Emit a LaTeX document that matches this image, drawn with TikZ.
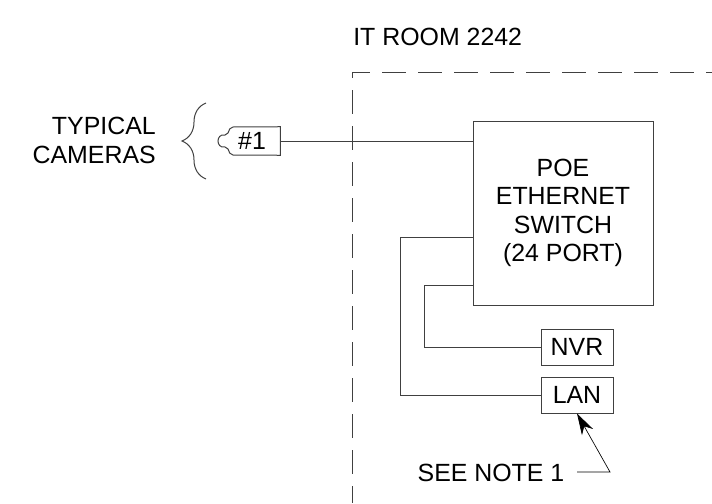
\documentclass[tikz,border=0pt]{standalone}
\usepackage{fontspec}
\setmainfont{Liberation Sans}
\usetikzlibrary{arrows.meta, positioning, decorations.pathreplacing}

\begin{document}
\begin{tikzpicture}[
    x=0.75pt, y=-0.75pt,
    box/.style={draw=black!75, line width=0.75pt, inner sep=0pt, align=center, font=\fontsize{18.67}{21.2}\selectfont},
    label/.style={inner sep=0pt, font=\fontsize{18.67}{21.8}\selectfont},
    wire/.style={draw=black!75, line width=0.75pt},
    room/.style={draw=black!75, line width=0.75pt, dash pattern=on 18pt off 9pt},
    arrow/.style={-{Stealth[length=16pt, width=9.5pt, inset=5pt]}, line width=0.5pt}
]
\useasboundingbox (0, 0) rectangle (712, 503);

% --- Room boundary ---
\node[label, anchor=west] (room) at (353, 37) {IT ROOM 2242};
\coordinate (corner) at (352, 72);
\coordinate (rmtop) at (712, 72);
\coordinate (rmbot) at (352, 503);
\draw[room, dash phase=4.5pt] (corner) -- (rmtop);
\draw[room, dash phase=13.5pt] (corner) -- (rmbot);

% --- Equipment ---
\node[box, minimum width=135pt, minimum height=138pt] (switch) at (563, 213) {POE\\ETHERNET\\SWITCH\\(24 PORT)};
\node[box, minimum width=54pt, minimum height=27pt] (nvr) at (577, 347) {NVR};
\node[box, minimum width=54pt, minimum height=27pt] (lan) at (577, 395) {LAN};

% --- Camera ---
\node[label, minimum width=42pt, minimum height=21pt] (cam) at (252, 141) {\#1};
\draw[wire] (cam.north east) -- (233, 127) .. controls (230, 127) and (229, 130) .. (228, 133)
    -- (225, 135) .. controls (220, 134) and (218, 138) .. (218, 141) .. controls (218, 144) and (220, 148) .. (225, 147)
    -- (228, 149) .. controls (229, 152) and (230, 155) .. (233, 155) -- (cam.south east) -- cycle;
\draw[wire, decorate, decoration={brace, amplitude=18pt, aspect=0.5}] (206, 179) -- (206, 103);
\node[label, anchor=east, align=right] (typical) at (156, 140) {TYPICAL\\CAMERAS};

% --- Wiring ---
\coordinate (portb) at (473, 237);
\coordinate (portc) at (473, 285);
\draw[wire] (cam.east) -- (cam.east -| switch.west);
\draw[wire] (portb) -- (400, 237) -- (400, 395) -- (lan.west);
\draw[wire] (portc) -- (424, 285) -- (424, 347) -- (nvr.west);

% --- Note ---
\node[label] (note) at (491, 473) {SEE NOTE 1};
\coordinate (bend) at (610, 472);
\draw[arrow] (577, 472) -- (bend) -- (lan.south);

\end{tikzpicture}
\end{document}
